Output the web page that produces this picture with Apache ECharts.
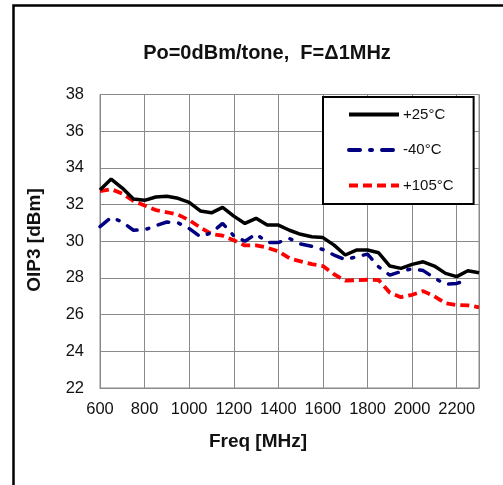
<!DOCTYPE html>
<html>
<head>
<meta charset="utf-8">
<script src="https://cdn.jsdelivr.net/npm/echarts@6/dist/echarts.min.js"></script>
<style>
  html, body { margin: 0; padding: 0; background: #fff; }
  #chart { width: 503px; height: 485px; }
</style>
</head>
<body>
<div id="chart"></div>
<script>
// Frequency sweep points (MHz)
const freqMHz = [600, 650, 700, 750, 800, 850, 900, 950, 1000, 1050, 1100, 1150,
  1200, 1250, 1300, 1350, 1400, 1450, 1500, 1550, 1600, 1650, 1700, 1750,
  1800, 1850, 1900, 1950, 2000, 2050, 2100, 2150, 2200, 2250, 2300];

// OIP3 (dBm) per temperature
const oip3Room = [32.79, 33.39, 32.9, 32.3, 32.23, 32.41, 32.45, 32.34, 32.12, 31.65,
  31.55, 31.85, 31.37, 30.97, 31.25, 30.88, 30.88, 30.6, 30.38, 30.25, 30.2, 29.79,
  29.25, 29.52, 29.52, 29.37, 28.65, 28.52, 28.74, 28.88, 28.65, 28.25, 28.07, 28.39, 28.28];
const oip3Cold = [30.8, 31.3, 31.05, 30.6, 30.62, 30.85, 31.05, 31.0, 30.7, 30.25,
  30.46, 30.97, 30.3, 30.0, 30.4, 29.93, 29.93, 30.15, 29.85, 29.72, 29.55, 29.25,
  29.0, 29.15, 29.3, 28.6, 28.15, 28.35, 28.5, 28.4, 28.0, 27.65, 27.7, 27.9];
const oip3Hot = [32.73, 32.84, 32.6, 32.2, 31.95, 31.7, 31.58, 31.45, 31.15, 30.75,
  30.4, 30.3, 30.05, 29.77, 29.78, 29.65, 29.45, 29.07, 28.9, 28.75, 28.65, 28.2,
  27.85, 27.88, 27.9, 27.88, 27.2, 26.95, 27.08, 27.28, 27.0, 26.62, 26.52, 26.5, 26.4];

const seriesNames = ['+25°C', '-40°C', '+105°C'];
const xTicks = { min: 600, max: 2300, step: 200, lastLabel: 2200 };
const yTicks = { min: 22, max: 38, step: 2 };

const pairs = (vals) => vals.map((v, i) => [freqMHz[i], v]);

const FONT = 'Arial, "Liberation Sans", sans-serif';
const GRID_GRAY = '#8a8a8a';
const chart = echarts.init(document.getElementById('chart'), null, { renderer: 'canvas' });

chart.setOption({
  animation: false,
  backgroundColor: '#fff',
  grid: { left: 100, top: 94.5, right: 24, bottom: 97, show: true, borderColor: GRID_GRAY, borderWidth: 1 },
  xAxis: {
    type: 'value', min: xTicks.min, max: xTicks.max, interval: xTicks.step,
    axisLine: { lineStyle: { color: GRID_GRAY } },
    axisTick: { show: false },
    splitLine: { show: true, lineStyle: { color: GRID_GRAY, width: 1 } },
    axisLabel: { color: '#111', fontFamily: FONT, fontSize: 16.5, margin: 13, showMaxLabel: false,
      formatter: (v) => (v > xTicks.lastLabel ? '' : String(v)) }
  },
  yAxis: {
    type: 'value', min: yTicks.min, max: yTicks.max, interval: yTicks.step,
    axisLine: { show: true, lineStyle: { color: GRID_GRAY } },
    axisTick: { show: false },
    splitLine: { show: true, lineStyle: { color: GRID_GRAY, width: 1 } },
    axisLabel: { color: '#111', fontFamily: FONT, fontSize: 16.5, margin: 16 }
  },
  legend: {
    orient: 'vertical', left: 323, top: 97,
    padding: [10, 20, 11, 24],
    itemWidth: 50, itemHeight: 14, itemGap: 20.5,
    backgroundColor: '#fff', borderColor: '#000', borderWidth: 2,
    itemStyle: { opacity: 0 },
    lineStyle: { width: 4 },
    textStyle: { color: '#111', fontFamily: FONT, fontSize: 15, padding: [0, 0, 0, -1] },
    data: seriesNames
  },
  graphic: [
    { type: 'rect', shape: { x: 13.5, y: 5.5, width: 520, height: 520 },
      style: { fill: 'none', stroke: '#000', lineWidth: 2.5 }, silent: true },
    { type: 'text', x: 267, y: 53, style: { text: 'Po=0dBm/tone,  F=Δ1MHz', fill: '#111',
      font: 'bold 20px ' + FONT, textAlign: 'center', textVerticalAlign: 'middle' } },
    { type: 'text', x: 258, y: 442, style: { text: 'Freq [MHz]', fill: '#111',
      font: 'bold 19px ' + FONT, textAlign: 'center', textVerticalAlign: 'middle' } },
    { type: 'text', x: 35, y: 240, rotation: Math.PI / 2, style: { text: 'OIP3 [dBm]', fill: '#111',
      font: 'bold 19px ' + FONT, textAlign: 'center', textVerticalAlign: 'middle' } }
  ],
  series: [
    { name: seriesNames[0], type: 'line', data: pairs(oip3Room), symbol: 'none', z: 5,
      lineStyle: { color: '#000', width: 3.5 }, itemStyle: { color: '#000' } },
    { name: seriesNames[1], type: 'line', data: pairs(oip3Cold), symbol: 'none', z: 4,
      lineStyle: { color: '#000080', width: 3.5, type: [11, 10, 2, 10], cap: 'round' },
      itemStyle: { color: '#000080' } },
    { name: seriesNames[2], type: 'line', data: pairs(oip3Hot), symbol: 'none', z: 3,
      lineStyle: { color: '#ff0000', width: 3.8, type: [9, 5] }, itemStyle: { color: '#ff0000' } }
  ]
});
</script>
</body>
</html>
